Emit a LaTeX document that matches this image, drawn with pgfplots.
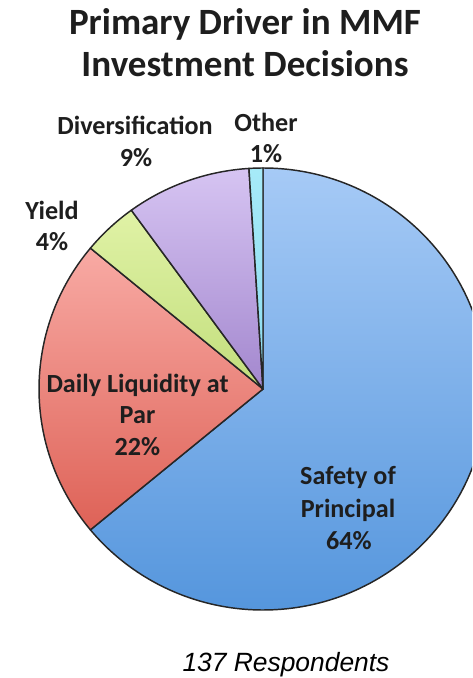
\documentclass[border=0pt]{standalone}
\usepackage{pgfplots}
\pgfplotsset{compat=1.18}
\usepackage{pgfplotstable}
\usepackage{fontspec}
\setmainfont{Carlito}
\newfontfamily\arialfont{Liberation Sans}

\definecolor{blueT}{HTML}{A6CAF6}
\definecolor{blueB}{HTML}{5596DD}
\definecolor{redT}{HTML}{F8AAA4}
\definecolor{redB}{HTML}{DE6257}
\definecolor{greenT}{HTML}{E0F2A6}
\definecolor{greenB}{HTML}{C2DE7C}
\definecolor{purpT}{HTML}{D6C4F2}
\definecolor{purpB}{HTML}{A387CE}
\definecolor{cyanT}{HTML}{A6EAF8}
\definecolor{cyanB}{HTML}{8CDCF0}
\definecolor{txt}{HTML}{1E1E1E}

\tikzset{
  lbl/.style={anchor=base, text=txt, font=\bfseries\fontsize{19.6}{23}\selectfont},
  ttl/.style={anchor=base, text=txt, font=\bfseries\fontsize{27.8}{32}\selectfont},
}

\pgfplotstableread[col sep=comma]{
driver,share
Safety of Principal,64
Daily Liquidity at Par,22
Yield,4
Diversification,9
Other,1
}\driverdata

% one wedge: start angle, end angle, top colour, bottom colour
\newcommand\slice[4]{%
  \draw[draw=black!85, line width=1.1pt, line join=round, top color=#3, bottom color=#4]
    (axis cs:263,289) -- ++(#1:168pt and 165.75pt)
    arc[start angle=#1, end angle=#2, x radius=168pt, y radius=165.75pt] -- cycle;}

\begin{document}
\begin{tikzpicture}
\pgfplotstablegetelem{0}{share}\of\driverdata \edef\sA{\pgfplotsretval}
\pgfplotstablegetelem{1}{share}\of\driverdata \edef\sB{\pgfplotsretval}
\pgfplotstablegetelem{2}{share}\of\driverdata \edef\sC{\pgfplotsretval}
\pgfplotstablegetelem{3}{share}\of\driverdata \edef\sD{\pgfplotsretval}
\pgfplotstablegetelem{4}{share}\of\driverdata \edef\sE{\pgfplotsretval}
\pgfmathsetmacro\aA{90-3.6*\sA}
\pgfmathsetmacro\aB{\aA-3.6*\sB}
\pgfmathsetmacro\aC{\aB-3.6*\sC}
\pgfmathsetmacro\aD{\aC-3.6*\sD}
\pgfmathsetmacro\aE{\aD-3.6*\sE}
\useasboundingbox (0,0) rectangle (354pt,508.5pt);
\begin{axis}[
  at={(0,0)}, anchor=south west,
  scale only axis, width=354pt, height=508.5pt,
  xmin=0, xmax=472, ymin=0, ymax=678,
  hide axis, clip=true,
]
\slice{90}{\aA}{blueT}{blueB}
\slice{\aA}{\aB}{redT}{redB}
\slice{\aB}{\aC}{greenT}{greenB}
\slice{\aC}{\aD}{purpT}{purpB}
\slice{\aD}{\aE}{cyanT}{cyanB}

\node[ttl] at (axis cs:245,643) {Primary Driver in MMF};
\node[ttl] at (axis cs:245,601) {Investment Decisions};

\node[lbl] at (axis cs:135,543) {Diversification};
\node[lbl] at (axis cs:136,511) {9\%};
\node[lbl] at (axis cs:266,546) {Other};
\node[lbl] at (axis cs:266,515) {1\%};
\node[lbl] at (axis cs:52,458) {Yield};
\node[lbl] at (axis cs:52,427) {4\%};
\node[lbl] at (axis cs:137.5,285) {Daily Liquidity at};
\node[lbl] at (axis cs:137.5,254) {Par};
\node[lbl] at (axis cs:137.5,222) {22\%};
\node[lbl] at (axis cs:348,193) {Safety of};
\node[lbl] at (axis cs:348,160) {Principal};
\node[lbl] at (axis cs:349,128) {64\%};

\node[anchor=base, text=black, font=\arialfont\itshape\fontsize{19.8}{23}\selectfont] at (axis cs:286,7) {137 Respondents};
\end{axis}
\end{tikzpicture}
\end{document}
